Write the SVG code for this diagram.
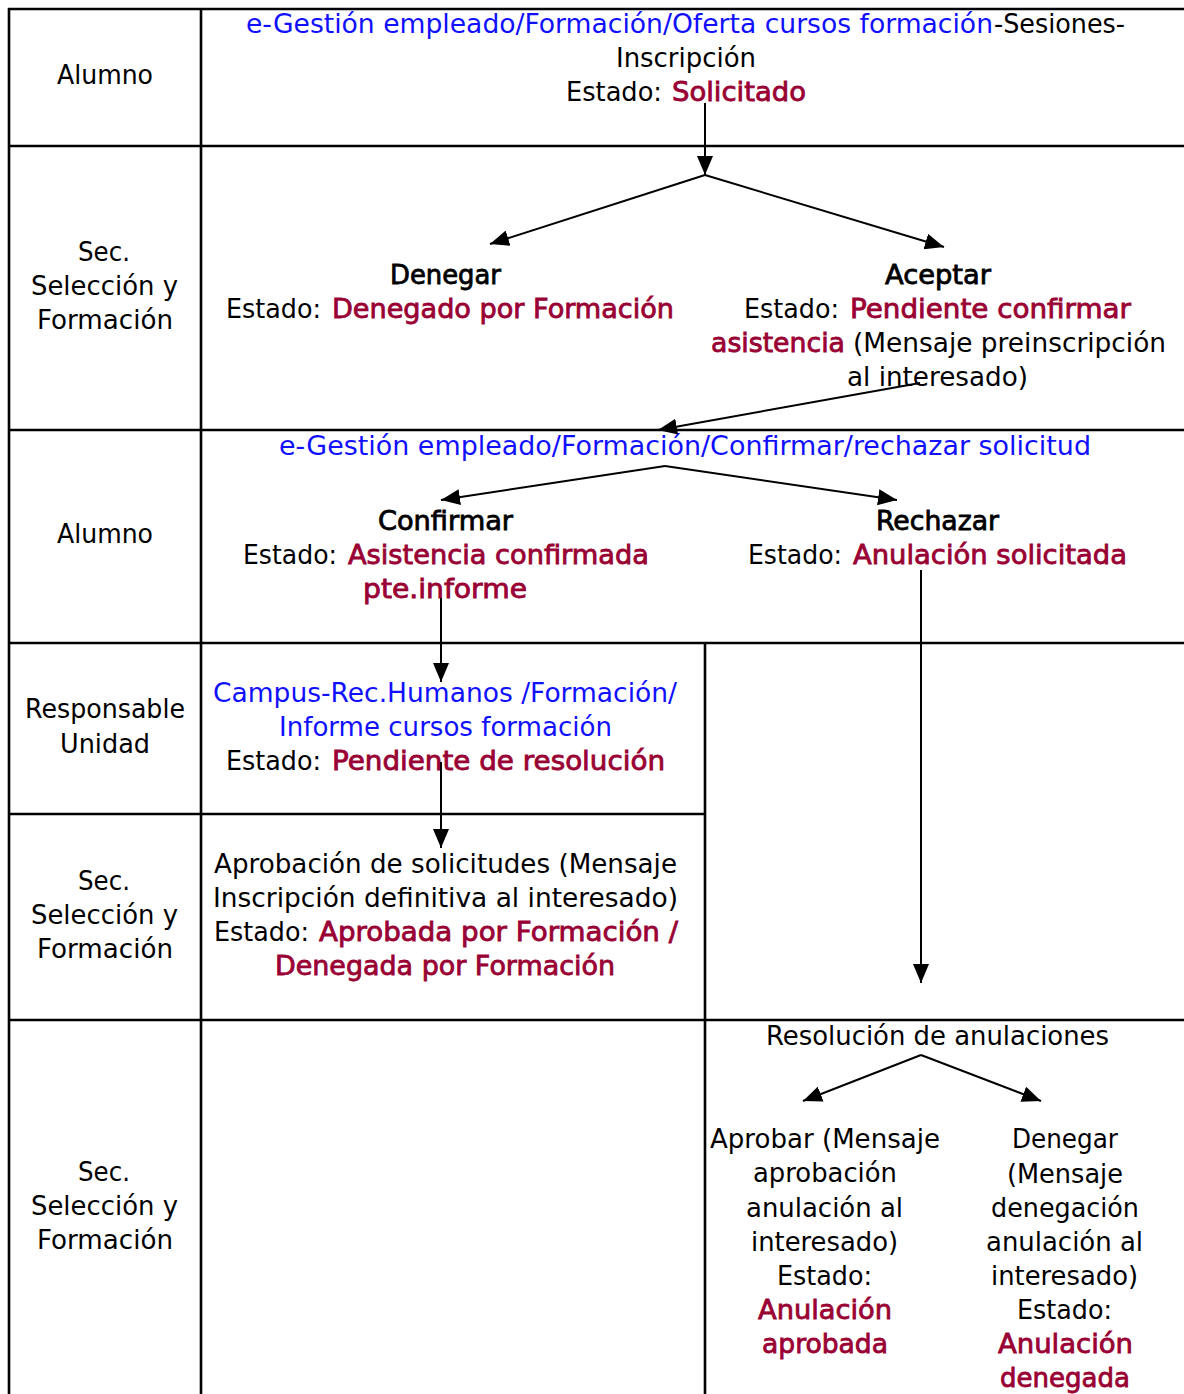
<svg xmlns="http://www.w3.org/2000/svg" width="1184" height="1394" viewBox="0 0 1184 1394">
<style>
text{font-family:"DejaVu Sans",Verdana,sans-serif;font-size:26px;fill:#000}
.bl{fill:#1010ff}
.rd{fill:#990033;stroke:#990033;stroke-width:0.8}
.hd{stroke:#000;stroke-width:0.8}
.grid line{stroke:#000;stroke-width:2.6}
.conn line{stroke:#000;stroke-width:2;marker-end:url(#ah)}
</style>
<defs>
<marker id="ah" markerUnits="userSpaceOnUse" markerWidth="20" markerHeight="16" refX="19" refY="8" orient="auto">
<path d="M0,0 L19,8 L0,16 z" fill="#000"/>
</marker>
</defs>
<rect width="1184" height="1394" fill="#fff"/>
<g id="lanes" class="grid">
<line x1="8" y1="9" x2="1184" y2="9"/>
<line x1="9" y1="8" x2="9" y2="1394"/>
<line x1="201" y1="9" x2="201" y2="1394"/>
<line x1="9" y1="146" x2="1184" y2="146"/>
<line x1="9" y1="430" x2="1184" y2="430"/>
<line x1="9" y1="643" x2="1184" y2="643"/>
<line x1="9" y1="814" x2="705" y2="814"/>
<line x1="9" y1="1020" x2="1184" y2="1020"/>
<line x1="705" y1="643" x2="705" y2="1394"/>
</g>
<g id="lane-labels" transform="translate(0,-1)">
<text x="57" y="85" textLength="96" lengthAdjust="spacingAndGlyphs">Alumno</text>
<text x="78" y="262" textLength="52" lengthAdjust="spacingAndGlyphs">Sec.</text>
<text x="31" y="296" textLength="147" lengthAdjust="spacingAndGlyphs">Selección y</text>
<text x="37" y="330" textLength="136" lengthAdjust="spacingAndGlyphs">Formación</text>
<text x="57" y="544" textLength="96" lengthAdjust="spacingAndGlyphs">Alumno</text>
<text x="25" y="719" textLength="160" lengthAdjust="spacingAndGlyphs">Responsable</text>
<text x="60" y="754" textLength="90" lengthAdjust="spacingAndGlyphs">Unidad</text>
<text x="78" y="891" textLength="52" lengthAdjust="spacingAndGlyphs">Sec.</text>
<text x="31" y="925" textLength="147" lengthAdjust="spacingAndGlyphs">Selección y</text>
<text x="37" y="959" textLength="136" lengthAdjust="spacingAndGlyphs">Formación</text>
<text x="78" y="1182" textLength="52" lengthAdjust="spacingAndGlyphs">Sec.</text>
<text x="31" y="1216" textLength="147" lengthAdjust="spacingAndGlyphs">Selección y</text>
<text x="37" y="1250" textLength="136" lengthAdjust="spacingAndGlyphs">Formación</text>
</g>
<g id="inscripcion" transform="translate(0,-1)">
<text class="bl" x="246" y="34" textLength="747" lengthAdjust="spacingAndGlyphs">e-Gestión empleado/Formación/Oferta cursos formación</text>
<text x="994" y="34" textLength="131" lengthAdjust="spacingAndGlyphs">-Sesiones-</text>
<text x="616" y="68" textLength="140" lengthAdjust="spacingAndGlyphs">Inscripción</text>
<text x="566" y="102" textLength="96" lengthAdjust="spacingAndGlyphs">Estado:</text>
<text class="rd" x="672" y="102" textLength="134" lengthAdjust="spacingAndGlyphs">Solicitado</text>
</g>
<g id="denegar" transform="translate(0,-1)">
<text class="hd" x="390" y="285" textLength="111" lengthAdjust="spacingAndGlyphs">Denegar</text>
<text x="226" y="319" textLength="95" lengthAdjust="spacingAndGlyphs">Estado:</text>
<text class="rd" x="332" y="319" textLength="342" lengthAdjust="spacingAndGlyphs">Denegado por Formación</text>
</g>
<g id="aceptar" transform="translate(0,-1)">
<text class="hd" x="885" y="285" textLength="106" lengthAdjust="spacingAndGlyphs">Aceptar</text>
<text x="744" y="319" textLength="95" lengthAdjust="spacingAndGlyphs">Estado:</text>
<text class="rd" x="850" y="319" textLength="281" lengthAdjust="spacingAndGlyphs">Pendiente confirmar</text>
<text class="rd" x="711" y="353" textLength="134" lengthAdjust="spacingAndGlyphs">asistencia</text>
<text x="853" y="353" textLength="313" lengthAdjust="spacingAndGlyphs">(Mensaje preinscripción</text>
<text x="847" y="387" textLength="181" lengthAdjust="spacingAndGlyphs">al interesado)</text>
</g>
<g id="confirmar-rechazar" transform="translate(0,-1)">
<text class="bl" x="279" y="456" textLength="812" lengthAdjust="spacingAndGlyphs">e-Gestión empleado/Formación/Confirmar/rechazar solicitud</text>
</g>
<g id="confirmar" transform="translate(0,-1)">
<text class="hd" x="378" y="531" textLength="135" lengthAdjust="spacingAndGlyphs">Confirmar</text>
<text x="243" y="565" textLength="94" lengthAdjust="spacingAndGlyphs">Estado:</text>
<text class="rd" x="348" y="565" textLength="301" lengthAdjust="spacingAndGlyphs">Asistencia confirmada</text>
<text class="rd" x="363" y="599" textLength="164" lengthAdjust="spacingAndGlyphs">pte.informe</text>
</g>
<g id="rechazar" transform="translate(0,-1)">
<text class="hd" x="876" y="531" textLength="123" lengthAdjust="spacingAndGlyphs">Rechazar</text>
<text x="748" y="565" textLength="94" lengthAdjust="spacingAndGlyphs">Estado:</text>
<text class="rd" x="853" y="565" textLength="274" lengthAdjust="spacingAndGlyphs">Anulación solicitada</text>
</g>
<g id="informe" transform="translate(0,-1)">
<text class="bl" x="213" y="703" textLength="464" lengthAdjust="spacingAndGlyphs">Campus-Rec.Humanos /Formación/</text>
<text class="bl" x="279" y="737" textLength="333" lengthAdjust="spacingAndGlyphs">Informe cursos formación</text>
<text x="226" y="771" textLength="95" lengthAdjust="spacingAndGlyphs">Estado:</text>
<text class="rd" x="332" y="771" textLength="333" lengthAdjust="spacingAndGlyphs">Pendiente de resolución</text>
</g>
<g id="aprobacion" transform="translate(0,-1)">
<text x="214" y="874" textLength="463" lengthAdjust="spacingAndGlyphs">Aprobación de solicitudes (Mensaje</text>
<text x="213" y="908" textLength="465" lengthAdjust="spacingAndGlyphs">Inscripción definitiva al interesado)</text>
<text x="214" y="942" textLength="95" lengthAdjust="spacingAndGlyphs">Estado:</text>
<text class="rd" x="319" y="942" textLength="359" lengthAdjust="spacingAndGlyphs">Aprobada por Formación /</text>
<text class="rd" x="275" y="976" textLength="340" lengthAdjust="spacingAndGlyphs">Denegada por Formación</text>
</g>
<g id="resolucion" transform="translate(0,-1)">
<text x="766" y="1046" textLength="343" lengthAdjust="spacingAndGlyphs">Resolución de anulaciones</text>
</g>
<g id="aprobar" transform="translate(0,-1)">
<text x="710" y="1149" textLength="230" lengthAdjust="spacingAndGlyphs">Aprobar (Mensaje</text>
<text x="753" y="1183" textLength="144" lengthAdjust="spacingAndGlyphs">aprobación</text>
<text x="746" y="1218" textLength="157" lengthAdjust="spacingAndGlyphs">anulación al</text>
<text x="751" y="1252" textLength="147" lengthAdjust="spacingAndGlyphs">interesado)</text>
<text x="777" y="1286" textLength="95" lengthAdjust="spacingAndGlyphs">Estado:</text>
<text class="rd" x="758" y="1320" textLength="134" lengthAdjust="spacingAndGlyphs">Anulación</text>
<text class="rd" x="762" y="1354" textLength="126" lengthAdjust="spacingAndGlyphs">aprobada</text>
</g>
<g id="denegar-anulacion" transform="translate(0,-1)">
<text x="1012" y="1149" textLength="106" lengthAdjust="spacingAndGlyphs">Denegar</text>
<text x="1007" y="1184" textLength="116" lengthAdjust="spacingAndGlyphs">(Mensaje</text>
<text x="991" y="1218" textLength="148" lengthAdjust="spacingAndGlyphs">denegación</text>
<text x="986" y="1252" textLength="157" lengthAdjust="spacingAndGlyphs">anulación al</text>
<text x="991" y="1286" textLength="147" lengthAdjust="spacingAndGlyphs">interesado)</text>
<text x="1017" y="1320" textLength="95" lengthAdjust="spacingAndGlyphs">Estado:</text>
<text class="rd" x="998" y="1354" textLength="135" lengthAdjust="spacingAndGlyphs">Anulación</text>
<text class="rd" x="1000" y="1388" textLength="130" lengthAdjust="spacingAndGlyphs">denegada</text>
</g>
<g id="connectors" class="conn">
<line x1="705" y1="103" x2="705" y2="175"/>
<line x1="705" y1="175" x2="490" y2="244"/>
<line x1="705" y1="175" x2="944" y2="247"/>
<line x1="920" y1="383" x2="658" y2="430"/>
<line x1="665" y1="466" x2="441" y2="500"/>
<line x1="665" y1="466" x2="897" y2="500"/>
<line x1="441" y1="598" x2="441" y2="682"/>
<line x1="921" y1="570" x2="921" y2="983"/>
<line x1="441" y1="762" x2="441" y2="848"/>
<line x1="921" y1="1055" x2="803" y2="1101"/>
<line x1="921" y1="1055" x2="1041" y2="1101"/>
</g>
</svg>
